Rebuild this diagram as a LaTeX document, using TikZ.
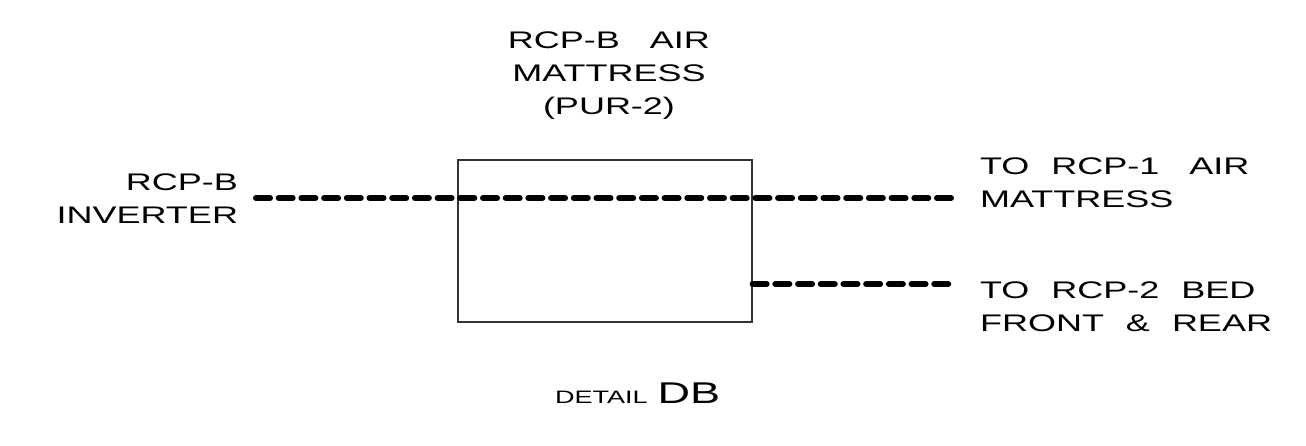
\documentclass[tikz,border=0pt]{standalone}
\usepackage{fontspec}
\newfontfamily\cadfont[FakeStretch=1.5,WordSpace=2.2]{Liberation Sans}
\begin{document}
\begin{tikzpicture}[x=1pt,y=-1pt,
  lbl/.style={inner sep=0pt,outer sep=0pt,font=\cadfont\fontsize{24}{33}\selectfont},
  cable/.style={line width=6pt,line cap=round,dash pattern=on 14pt off 8.7pt},
  boxstyle/.style={draw=black!80,line width=1.3pt,minimum width=294pt,minimum height=162pt,inner sep=0pt}]
\useasboundingbox (0,0) rectangle (1306,445);
% box
\node[boxstyle] (box) at (605,241) {};
% title
\node[lbl,anchor=base] (t1) at (609,48) {RCP-B\hspace{8pt} AIR};
\node[lbl,anchor=base] (t2) at (609,81) {MATTRESS};
\node[lbl,anchor=base] (t3) at (609,114) {(PUR-2)};
% left label
\node[lbl,anchor=base east] (l1) at (238,190) {RCP-B};
\node[lbl,anchor=base east] (l2) at (238,223) {INVERTER};
% right labels
\node[lbl,anchor=base west] (r1) at (980,174) {TO RCP-1\hspace{8pt} AIR};
\node[lbl,anchor=base west] (r2) at (980,207) {MATTRESS};
\node[lbl,anchor=base west] (r3) at (980,298) {TO RCP-2 BED};
\node[lbl,anchor=base west] (r4) at (980,331) {FRONT \& REAR};
% cables
\coordinate (inv) at (256,198);
\coordinate (mat) at (954,198);
\coordinate (bedA) at (box.east |- 0,284);
\coordinate (bedB) at (954,284);
\draw[cable] (inv) -- (mat);
\draw[cable] (bedA) -- (bedB);
% caption
\node[inner sep=0pt,anchor=base west] (cap) at (555,403) {\cadfont\fontsize{18}{20}\selectfont DETAIL\hspace{10pt}\fontsize{30}{32}\selectfont DB};
\end{tikzpicture}
\end{document}
